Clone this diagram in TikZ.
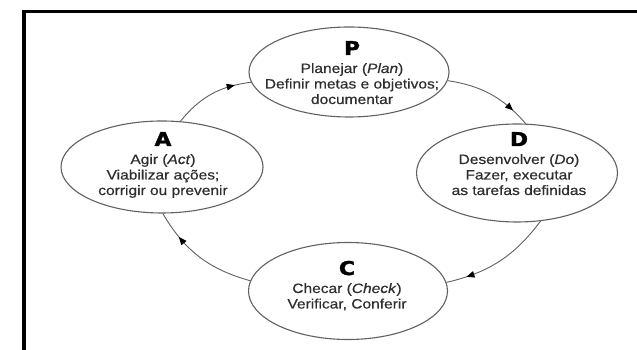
\documentclass[tikz,border=0pt]{standalone}
\usepackage{graphicx}
\usepackage{fontspec}
\setmainfont{Liberation Sans}[FakeBold=0.4]
\newfontfamily\letterfont{DejaVu Sans}[FakeBold=1.6]
\usetikzlibrary{shapes.geometric,arrows.meta,decorations.markings}
\definecolor{txt}{gray}{0.18}
\definecolor{linegray}{gray}{0.38}
\newcommand{\pdcatext}[2]{\scalebox{1.15}[1]{\fontsize{13.5}{15.5}\selectfont\begin{tabular}[t]{@{}c@{}}{\letterfont\bfseries\fontsize{19}{19}\selectfont\color{black}#1}\\[2.5pt]#2\end{tabular}}}
\tikzset{
  ell/.style={ellipse, draw=linegray, line width=1.1pt, inner sep=0pt},
  lbl/.style={anchor=base, text=txt, inner sep=0pt},
  cyc/.style={draw=linegray, line width=0.9pt, postaction=decorate,
    decoration={markings, mark=at position #1 with {\arrow{Triangle[length=8pt,width=6.5pt,color=black]}}}}
}
\begin{document}
\begin{tikzpicture}[x=1pt,y=1pt]
\useasboundingbox (0,0) rectangle (637,350);
\fill[white] (0,0) rectangle (637,350);
\draw[line width=3.5pt, line join=miter] (24,-5) -- (24,338.5) -- (645,338.5);

\node[ell, minimum width=200pt, minimum height=90pt] (P) at (349,278) {};
\node[ell, minimum width=202pt, minimum height=92pt] (A) at (162,183) {};
\node[ell, minimum width=201pt, minimum height=98pt] (D) at (517,177) {};
\node[ell, minimum width=199pt, minimum height=97pt] (C) at (348,59) {};

\node[lbl] (Pt) at (352,295) {\pdcatext{P}{Planejar (\textit{Plan})\\Definir metas e objetivos;\\documentar}};
\node[lbl] (At) at (163,204) {\pdcatext{A}{Agir (\textit{Act})\\Viabilizar ações;\\corrigir ou prevenir}};
\node[lbl] (Dt) at (519,204) {\pdcatext{D}{Desenvolver (\textit{Do})\\Fazer, executar\\as tarefas definidas}};
\node[lbl] (Ct) at (347,75) {\pdcatext{C}{Checar (\textit{Check})\\Verificar, Conferir}};

\draw[cyc=0.8] (A.68) to[bend left=22] (P.186);
\draw[cyc=0.8] (P.-5) to[bend left=20] (D.80);
\draw[cyc=0.82] (D.-64) to[bend left=20] (C.5);
\draw[cyc=0.75] (C.174) to[bend left=22] (A.-89);
\end{tikzpicture}
\end{document}
